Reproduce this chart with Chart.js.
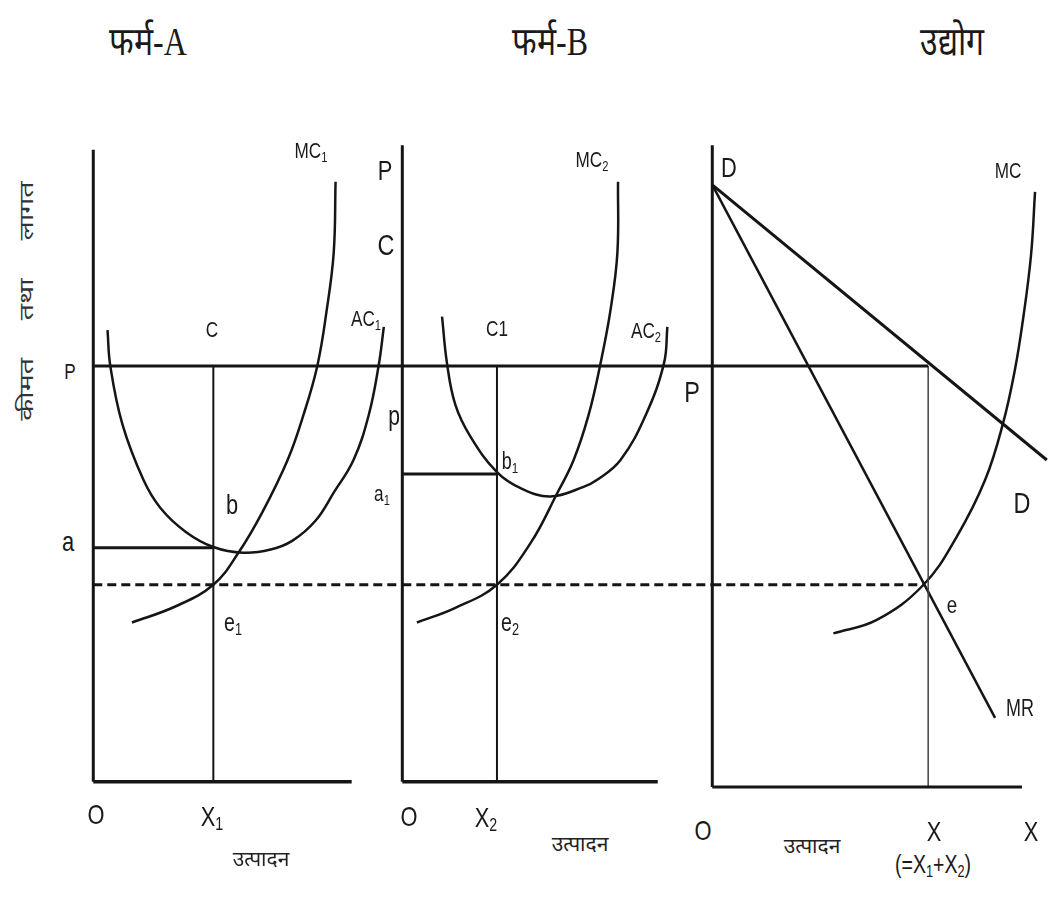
<!DOCTYPE html>
<html lang="hi">
<head>
<meta charset="utf-8">
<script src="https://cdn.jsdelivr.net/npm/chart.js@4.4.0/dist/chart.umd.min.js"></script>
<style>
  body { margin: 0; background: #fff; width: 1053px; height: 901px; position: relative; overflow: hidden;
         font-family: "Liberation Sans Narrow", "Liberation Sans", "Noto Sans", sans-serif; color: #1a1a1a; }
  canvas { position: absolute; }
  .lbl { position: absolute; transform: translate(-50%, -50%) scaleX(0.78); white-space: nowrap; font-size: 22px; line-height: 1; }
  .dev { position: absolute; transform: translate(-50%, -50%); white-space: nowrap; font-size: 21px; line-height: 1; color: #222; }
  .ttl { position: absolute; transform: translate(-50%, -50%) scaleX(0.8); white-space: nowrap;
         font-family: "Liberation Serif", "DejaVu Serif", serif; font-size: 40px; line-height: 1; }
  .rot { position: absolute; transform: translate(-50%, -50%) rotate(-90deg) scaleX(1.5); white-space: nowrap;
         word-spacing: 20px; font-size: 19px; line-height: 1; color: #333; }
  sub { font-size: 0.65em; vertical-align: -0.25em; }
</style>
</head>
<body>
<canvas id="firmA"></canvas>
<canvas id="firmB"></canvas>
<canvas id="industry"></canvas>
<div id="labels"></div>
<script>
// Данные (x — выпуск, y — цена/издержки)
// Фирма A
const mc1 = [[12.5, 24.9], [26.5, 27.4], [38.8, 30.8], [46.9, 35.8], [54.7, 42.2], [62.8, 50.3],
             [67.9, 57.3], [72.4, 65.0], [75.4, 73.6], [77.7, 82.7], [78.3, 93.8]];
const ac1 = [[4.6, 70.6], [5.5, 65.0], [9.4, 55.9], [16.2, 47.2], [21.7, 42.8], [29.8, 39.1], [38.8, 36.7],
             [48.5, 35.8], [57.3, 36.3], [64.4, 37.7], [71.8, 40.8], [77.7, 45.2], [84.1, 50.3],
             [89.0, 57.3], [92.2, 65.0], [93.9, 71.1]];
// Фирма B
const mc2 = [[4.7, 24.9], [17.1, 27.2], [30.5, 30.8], [41.3, 37.3], [49.9, 45.1], [55.2, 50.3],
             [60.0, 57.3], [63.9, 65.5], [67.1, 73.8], [69.3, 82.7], [69.5, 93.8]];
const ac2 = [[12.8, 72.7], [14.4, 65.4], [17.1, 58.9], [21.9, 54.0], [30.5, 48.4], [38.1, 45.9], [47.7, 44.6],
             [58.4, 46.1], [62.8, 47.2], [70.3, 50.3], [78.4, 57.3], [84.3, 65.4], [85.4, 71.1]];
// Отрасль
const demand = [[0, 93.3], [108, 50.3]];
const mr = [[0, 93.3], [91.3, 10.0]];
const mcInd = [[39.1, 23.2], [53.1, 25.3], [68.2, 30.8], [78.9, 38.3], [88.1, 47.2], [93.9, 56.1],
               [97.7, 64.4], [100.3, 72.2], [102.9, 82.3], [104.2, 92.2]];

// Уровни и объёмы
const price = 65;          // P
const costA = 36.6;        // a
const costB = 48.1;        // a1
const mcLevel = 30.8;      // e1, e2, e
const outputA = 38.8;      // X1
const outputB = 30.5;      // X2
const outputInd = 69.7;    // X = X1 + X2
const axisA = [83.5, 98.8];   // конец оси X, верх оси Y
const axisB = [82.3, 99.5];
const axisInd = [100, 99.5, -0.8];

const ink = '#151515';

function pts(arr) {
    return arr.map(([x, y]) => ({ x, y }));
}

function line(arr, width, extra = {}) {
    return Object.assign({
        data: pts(arr),
        showLine: true,
        borderColor: ink,
        borderWidth: width,
        pointRadius: 0,
        fill: false
    }, extra);
}

function curve(arr, width) {
    return line(arr, width, { tension: 0.4 });
}

// Панель: начало координат на странице и масштаб
function makePanel(id, frame, datasets) {
    const c = document.getElementById(id);
    const w = Math.round((frame.xMax - frame.xMin) * frame.kx);
    const h = Math.round((frame.yMax - frame.yMin) * frame.ky);
    c.style.left = (frame.ox + frame.xMin * frame.kx) + 'px';
    c.style.top = (frame.oy - frame.yMax * frame.ky) + 'px';
    c.width = w;
    c.height = h;
    c.style.width = w + 'px';
    c.style.height = h + 'px';
    return new Chart(c, {
        type: 'scatter',
        data: { datasets },
        options: {
            responsive: false,
            animation: false,
            events: [],
            layout: { padding: 0 },
            plugins: { legend: { display: false }, tooltip: { enabled: false } },
            scales: {
                x: { type: 'linear', min: frame.xMin, max: frame.xMax, display: false },
                y: { type: 'linear', min: frame.yMin, max: frame.yMax, display: false }
            }
        }
    });
}

const dash = { borderDash: [9, 5] };

makePanel('firmA', { ox: 93, oy: 782, kx: 3.09, ky: 6.4, xMin: -3, xMax: 103, yMin: -3, yMax: 100 }, [
    line([[0, 0], [0, axisA[1]]], 3),
    line([[0, 0], [axisA[0], 0]], 3.5),
    line([[0, price], [100, price]], 3),
    line([[0, costA], [outputA, costA]], 3),
    line([[outputA, 0], [outputA, price]], 2),
    line([[0, mcLevel], [100, mcLevel]], 3, dash),
    curve(mc1, 2.5),
    curve(ac1, 2.5)
]);

makePanel('firmB', { ox: 402, oy: 782, kx: 3.1, ky: 6.4, xMin: -3, xMax: 103, yMin: -3, yMax: 100 }, [
    line([[0, 0], [0, axisB[1]]], 3),
    line([[0, 0], [axisB[0], 0]], 3.5),
    line([[0, price], [100, price]], 3),
    line([[0, costB], [outputB, costB]], 3),
    line([[outputB, 0], [outputB, price]], 2),
    line([[0, mcLevel], [100, mcLevel]], 3, dash),
    curve(mc2, 2.5),
    curve(ac2, 2.5)
]);

makePanel('industry', { ox: 712, oy: 782, kx: 3.1, ky: 6.4, xMin: -3, xMax: 110, yMin: -3, yMax: 100 }, [
    line([[0, axisInd[2]], [0, axisInd[1]]], 3),
    line([[0, axisInd[2]], [axisInd[0], axisInd[2]]], 3),
    line([[0, price], [outputInd, price]], 3),
    line([[outputInd, axisInd[2]], [outputInd, price]], 1.5, { borderColor: '#444' }),
    line([[0, mcLevel], [68.5, mcLevel]], 3, dash),
    line(demand, 3),
    line(mr, 2.5),
    curve(mcInd, 2.5)
]);

// Подписи: класс, текст, x, y, размер шрифта
const labels = [
    ['ttl', 'फर्म-A', 148, 42], ['ttl', 'फर्म-B', 550, 42], ['ttl', 'उद्योग', 952, 42],
    ['rot', 'कीमत तथा लागत', 26, 301],
    ['lbl', 'MC<sub>1</sub>', 311, 152, 22], ['lbl', 'AC<sub>1</sub>', 366, 320, 22], ['lbl', 'C', 212, 330, 22],
    ['lbl', 'P', 70, 372, 22], ['lbl', 'a', 68, 542, 28], ['lbl', 'b', 232, 505, 28], ['lbl', 'e<sub>1</sub>', 233, 624, 25],
    ['lbl', 'O', 96, 815, 28], ['lbl', 'X<sub>1</sub>', 212, 818, 28], ['dev', 'उत्पादन', 261, 858],
    ['lbl', 'P', 385, 171, 28], ['lbl', 'C', 386, 245, 30], ['lbl', 'C1', 497, 329, 22], ['lbl', 'MC<sub>2</sub>', 592, 161, 22],
    ['lbl', 'AC<sub>2</sub>', 646, 332, 22], ['lbl', 'p', 394, 416, 27], ['lbl', 'b<sub>1</sub>', 510, 463, 23],
    ['lbl', 'a<sub>1</sub>', 382, 495, 22], ['lbl', 'e<sub>2</sub>', 510, 624, 25],
    ['lbl', 'O', 409, 817, 28], ['lbl', 'X<sub>2</sub>', 486, 819, 28], ['dev', 'उत्पादन', 580, 843],
    ['lbl', 'D', 729, 168, 28], ['lbl', 'MC', 1008, 171, 22], ['lbl', 'P', 692, 392, 30], ['lbl', 'D', 1022, 503, 30],
    ['lbl', 'e', 952, 605, 24], ['lbl', 'MR', 1020, 708, 23], ['lbl', 'O', 703, 831, 28], ['dev', 'उत्पादन', 812, 845],
    ['lbl', 'X', 934, 832, 28], ['lbl', 'X', 1031, 832, 28], ['lbl', '(=X<sub>1</sub>+X<sub>2</sub>)', 933, 866, 25]
];
const box = document.getElementById('labels');
labels.forEach(([cls, text, x, y, size]) => {
    const d = document.createElement('div');
    d.className = cls;
    d.innerHTML = text;
    d.style.left = x + 'px';
    d.style.top = y + 'px';
    if (size) d.style.fontSize = size + 'px';
    box.appendChild(d);
});
</script>
</body>
</html>
